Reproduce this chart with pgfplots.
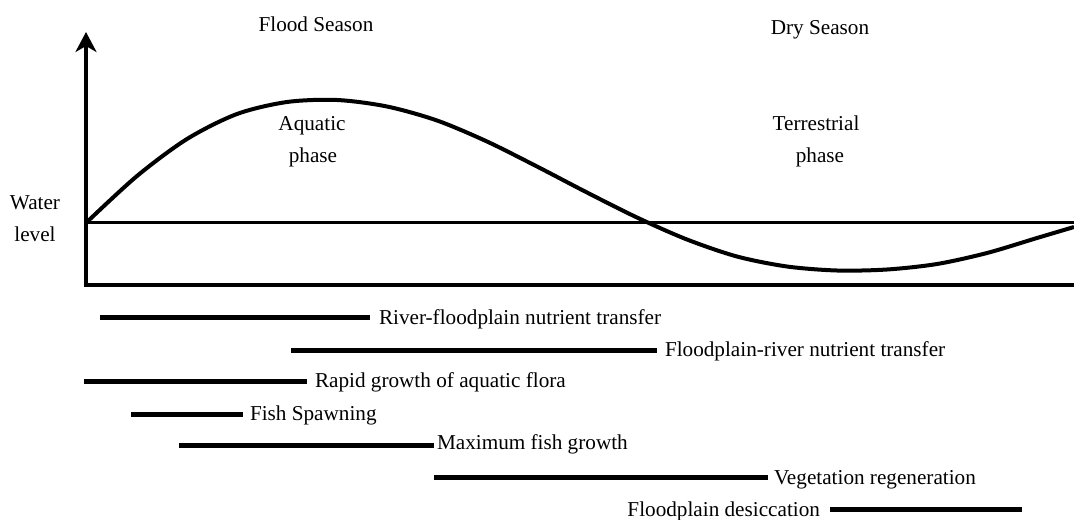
\documentclass[border=0pt]{standalone}
\usepackage{fontspec}
\setmainfont{Liberation Serif}
\usepackage{pgfplots}
\pgfplotsset{compat=1.18}
\usetikzlibrary{arrows.meta}
\tikzset{lbl/.style={inner sep=0pt, outer sep=0pt, font=\fontsize{10.6}{12}\selectfont}}
\begin{document}
\begin{tikzpicture}
\useasboundingbox (0,0) rectangle (537pt,259.5pt);
\begin{axis}[
  at={(0,0)}, anchor=south west,
  scale only axis, width=537pt, height=259.5pt,
  xmin=0, xmax=1074, ymin=0, ymax=519,
  y dir=reverse, hide axis, clip=false,
]
% axes
\addplot[line width=2pt, -{Stealth[length=10pt,width=10.5pt,inset=3pt]}] coordinates {(86,286) (86,32)};
\addplot[line width=1.8pt] coordinates {(84,285) (1074,285)};
\addplot[line width=1.5pt] coordinates {(86,222) (1074,222)};
% water level curve
\addplot[line width=2pt, smooth] coordinates {
(87,222) (137,176) (187,139) (237,114) (287,102) (337,100) (387,106.5)
(437,120.5) (487,141.5) (537,166.5) (587,192.5) (637,217.5) (687,239.5) (737,256.5)
(787,266.5) (837,270.5) (887,269.5) (937,264) (987,253) (1037,238) (1074,227)};
% activity bars
\addplot[line width=2.5pt] coordinates {(100,317) (370,317)};
\addplot[line width=2.5pt] coordinates {(291,350) (657,350)};
\addplot[line width=2.5pt] coordinates {(84,381) (307,381)};
\addplot[line width=2.5pt] coordinates {(131,414) (243,414)};
\addplot[line width=2.5pt] coordinates {(179,445) (434,445)};
\addplot[line width=2.5pt] coordinates {(434,477) (768,477)};
\addplot[line width=2.5pt] coordinates {(830,509) (1022,509)};
% labels
\node[lbl, anchor=base west] at (axis cs:379,324) {River-floodplain nutrient transfer};
\node[lbl, anchor=base west] at (axis cs:665,356.5) {Floodplain-river nutrient transfer};
\node[lbl, anchor=base west] at (axis cs:315,387.5) {Rapid growth of aquatic flora};
\node[lbl, anchor=base west] at (axis cs:250,420) {Fish Spawning};
\node[lbl, anchor=base west] at (axis cs:437,449) {Maximum fish growth};
\node[lbl, anchor=base west] at (axis cs:774,484.5) {Vegetation regeneration};
\node[lbl, anchor=base east] at (axis cs:820,516.5) {Floodplain desiccation};
% headings
\node[lbl, anchor=base] at (axis cs:316,31.5) {Flood Season};
\node[lbl, anchor=base] at (axis cs:820,35) {Dry Season};
\node[lbl, anchor=base] at (axis cs:312,130) {Aquatic};
\node[lbl, anchor=base] at (axis cs:313,162) {phase};
\node[lbl, anchor=base] at (axis cs:816,130) {Terrestrial};
\node[lbl, anchor=base] at (axis cs:820,162) {phase};
\node[lbl, anchor=base] at (axis cs:35,209) {Water};
\node[lbl, anchor=base] at (axis cs:35,241) {level};
\end{axis}
\end{tikzpicture}
\end{document}
